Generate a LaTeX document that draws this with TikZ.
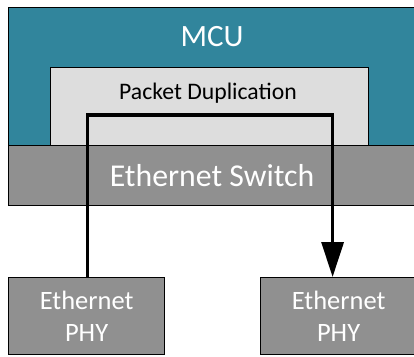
\documentclass[tikz,border=0pt]{standalone}
\usepackage{fontspec}
\setmainfont{Carlito}
\usetikzlibrary{arrows.meta}
\definecolor{mcuteal}{HTML}{31859C}
\definecolor{swgray}{HTML}{909090}
\definecolor{dupgray}{HTML}{DDDDDD}
\tikzset{
  blk/.style={draw=black, line width=1.2pt, rectangle, inner sep=0pt},
  flow/.style={draw=black, line width=3.3pt, -{Triangle[width=22pt,length=35pt]}},
}
\begin{document}
\begin{tikzpicture}[x=1pt,y=1pt]
\useasboundingbox (0,0) rectangle (414,356);
\clip (0,0) rectangle (414,356);
% MCU with the duplication block inside
\node[blk, fill=mcuteal, minimum width=422pt, minimum height=138pt, anchor=north west] (mcu) at (8,349) {};
\node[text=white, font=\fontsize{31}{36}\selectfont] (mcut) at (212,319) {MCU};
\node[blk, fill=dupgray, minimum width=318pt, minimum height=78pt, anchor=north west] (dup) at (50,289) {};
\node[font=\fontsize{23.7}{28}\selectfont] (dupt) at (208,263) {Packet Duplication};
% Switch
\node[blk, fill=swgray, minimum width=422pt, minimum height=60pt, anchor=north west] (sw) at (8,211) {};
\node[text=white, font=\fontsize{31.8}{36}\selectfont] (swt) at (212,180) {Ethernet Switch};
% PHYs
\node[blk, fill=swgray, minimum width=156pt, minimum height=77pt, anchor=north west,
      text=white, align=center, font=\fontsize{26.5}{32}\selectfont] (phyL) at (8,79) {Ethernet\\PHY};
\node[blk, fill=swgray, minimum width=156pt, minimum height=77pt, anchor=north west,
      text=white, align=center, font=\fontsize{26.5}{32}\selectfont] (phyR) at (260,79) {Ethernet\\PHY};
% Duplicated packet path
\draw[flow] ([xshift=1pt]phyL.north) -- ++(0,162) -| ([xshift=-6pt]phyR.north);
\end{tikzpicture}
\end{document}
